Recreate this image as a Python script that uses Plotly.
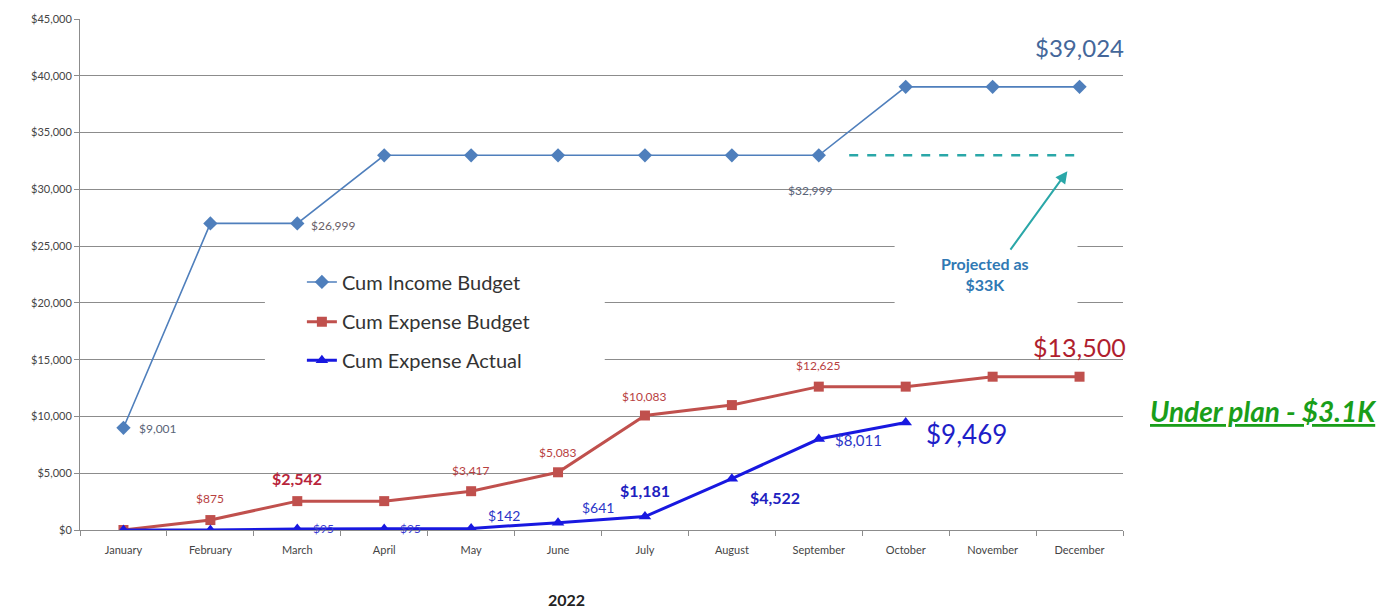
import plotly.graph_objects as go

# ---- data -------------------------------------------------------------
months = ["January", "February", "March", "April", "May", "June", "July",
          "August", "September", "October", "November", "December"]
income_budget = [9001, 26999, 26999, 32999, 32999, 32999, 32999, 32999,
                 32999, 39024, 39024, 39024]
expense_budget = [0, 875, 2542, 2542, 3417, 5083, 10083, 11000, 12625,
                  12625, 13500, 13500]
expense_actual = [0, 0, 95, 95, 142, 641, 1181, 4522, 8011, 9469]
projected_income = 33000
y_ticks = [0, 5000, 10000, 15000, 20000, 25000, 30000, 35000, 40000, 45000]

FONT = "Lato"
C_INC = "#4f7fbc"
C_EXP = "#c0504d"
C_ACT = "#1818e0"
C_PROJ = "#2aa7a8"

# plot-area geometry in pixels, used to place paper-referenced items
PL, PR, PT, PB = 80, 1123.5, 15, 530


def px_x(px):
    return (px - PL) / (PR - PL)


def px_y(py):
    return (PB - py) / (PB - PT)


x_idx = list(range(len(months)))

fig = go.Figure()

fig.add_trace(go.Scatter(
    x=x_idx, y=income_budget, name="Cum Income Budget", mode="lines+markers",
    legend="legend",
    line=dict(color=C_INC, width=1.6),
    marker=dict(symbol="diamond", size=11, color=C_INC)))
fig.add_trace(go.Scatter(
    x=x_idx, y=expense_budget, name="Cum Expense Budget", mode="lines+markers",
    legend="legend2",
    line=dict(color=C_EXP, width=3),
    marker=dict(symbol="square", size=10, color=C_EXP)))
fig.add_trace(go.Scatter(
    x=x_idx[:len(expense_actual)], y=expense_actual, name="Cum Expense Actual",
    mode="lines+markers", legend="legend3",
    line=dict(color=C_ACT, width=3),
    marker=dict(symbol="triangle-up", size=11, color=C_ACT)))

# projected income continuation (dashed)
sep = months.index("September")
fig.add_trace(go.Scatter(
    x=[sep + 0.35, len(months) - 1], y=[projected_income, projected_income],
    mode="lines", showlegend=False, hoverinfo="skip",
    line=dict(color=C_PROJ, width=2.5, dash="dash")))


def money(v):
    return f"${v:,.0f}"


annotations = []


def label(series, i, color, size=12, xs=0, ys=0, bold=False, xanchor="center"):
    t = money(series[i])
    if bold:
        t = f"<b>{t}</b>"
    annotations.append(dict(
        x=i, y=series[i], xref="x", yref="y", text=t, showarrow=False,
        xshift=xs, yshift=ys, xanchor=xanchor,
        font=dict(family=FONT, size=size, color=color)))


# income labels
label(income_budget, 0, "#5a6478", 12, xs=14, ys=-1, xanchor="left")
label(income_budget, 2, "#6a5f68", 12, xs=12, ys=-2, xanchor="left")
label(income_budget, 8, "#5a6478", 12, xs=-8, ys=-35)
label(income_budget, 11, "#44679a", 24, ys=39)

# expense budget labels
label(expense_budget, 1, "#b8413f", 12, ys=22)
label(expense_budget, 2, "#b8243a", 16, ys=23, bold=True)
label(expense_budget, 4, "#b8413f", 12, ys=21)
label(expense_budget, 5, "#b8413f", 12, ys=20)
label(expense_budget, 6, "#b8413f", 12, ys=19)
label(expense_budget, 8, "#b8413f", 12, ys=21)
label(expense_budget, 11, "#b01e2e", 25, ys=30)

# actual expense labels
label(expense_actual, 2, "#3a3ad0", 12, xs=14, ys=0, xanchor="left")
label(expense_actual, 3, "#3a3ad0", 12, xs=14, ys=0, xanchor="left")
label(expense_actual, 4, "#2b35c8", 14, xs=33, ys=13)
label(expense_actual, 5, "#2b35c8", 14, xs=40, ys=15)
label(expense_actual, 6, "#2020c0", 16, ys=26, bold=True)
label(expense_actual, 7, "#2020c0", 16, xs=43, ys=-19, bold=True)
label(expense_actual, 8, "#2b35c8", 15, xs=40, ys=-1)
label(expense_actual, 9, "#1e1ec8", 26, xs=61, ys=-12)

# projection note and arrow
annotations.append(dict(
    x=10.86, y=31600, xref="x", yref="y", ax=-58, ay=80, text="",
    showarrow=True, arrowhead=2, arrowsize=1.2, arrowwidth=2,
    arrowcolor=C_PROJ))
annotations.append(dict(
    x=px_x(985), y=px_y(272), xref="paper", yref="paper",
    xanchor="center", yanchor="middle",
    text="<b>Projected as<br>$33K</b>", showarrow=False, align="center",
    font=dict(family=FONT, size=16, color="#3079b4")))

annotations.append(dict(
    x=px_x(1264), y=px_y(410), xref="paper", yref="paper",
    xanchor="center", yanchor="middle",
    text="<b><i><u>Under plan - $3.1K</u></i></b>", showarrow=False,
    font=dict(family=FONT, size=28, color="#1a9e1a")))

annotations.append(dict(
    x=px_x(567), y=px_y(600), xref="paper", yref="paper",
    xanchor="center", yanchor="middle",
    text="<b>2022</b>", showarrow=False,
    font=dict(family=FONT, size=16, color="#222222")))

# white panels behind legend and projection note
shapes = [
    dict(type="rect", xref="paper", yref="paper", layer="above",
         x0=px_x(265), x1=px_x(605), y0=px_y(385), y1=px_y(262),
         fillcolor="white", line=dict(width=0)),
    dict(type="rect", xref="paper", yref="paper", layer="above",
         x0=px_x(895), x1=px_x(1078), y0=px_y(310), y1=px_y(232),
         fillcolor="white", line=dict(width=0)),
]

legend_font = dict(family=FONT, size=20, color="#333333")


def legend_row(py):
    return dict(x=px_x(302), y=px_y(py), xanchor="left", yanchor="middle",
                bgcolor="rgba(0,0,0,0)", font=legend_font, itemwidth=30)


fig.update_layout(
    width=1384, height=610,
    margin=dict(l=PL, r=1384 - PR, t=PT, b=610 - PB),
    paper_bgcolor="white", plot_bgcolor="white",
    font=dict(family=FONT, size=11, color="#444444"),
    annotations=annotations, shapes=shapes,
    legend=legend_row(280),
    legend2=legend_row(320),
    legend3=legend_row(359),
    showlegend=True,
)

fig.update_xaxes(
    range=[-0.5, len(months) - 0.5], tickvals=x_idx, ticktext=months,
    showgrid=False, zeroline=False, showline=True, linecolor="#8c8c8c",
    ticks="outside", ticklen=10, tickcolor="rgba(0,0,0,0)",
    tickfont=dict(family=FONT, size=11, color="#444444"),
    minor=dict(tickvals=[i - 0.5 for i in range(len(months) + 1)],
               ticks="outside", ticklen=5, tickcolor="#8c8c8c"),
)
fig.update_yaxes(
    range=[0, 45000], tickvals=y_ticks, ticktext=[money(v) for v in y_ticks],
    showgrid=True, gridcolor="#8c8c8c", gridwidth=1, zeroline=False,
    showline=True, linecolor="#8c8c8c", ticks="outside", ticklen=5,
    tickcolor="#8c8c8c",
    tickfont=dict(family=FONT, size=11, color="#444444"),
)

fig.write_html("out.html")
